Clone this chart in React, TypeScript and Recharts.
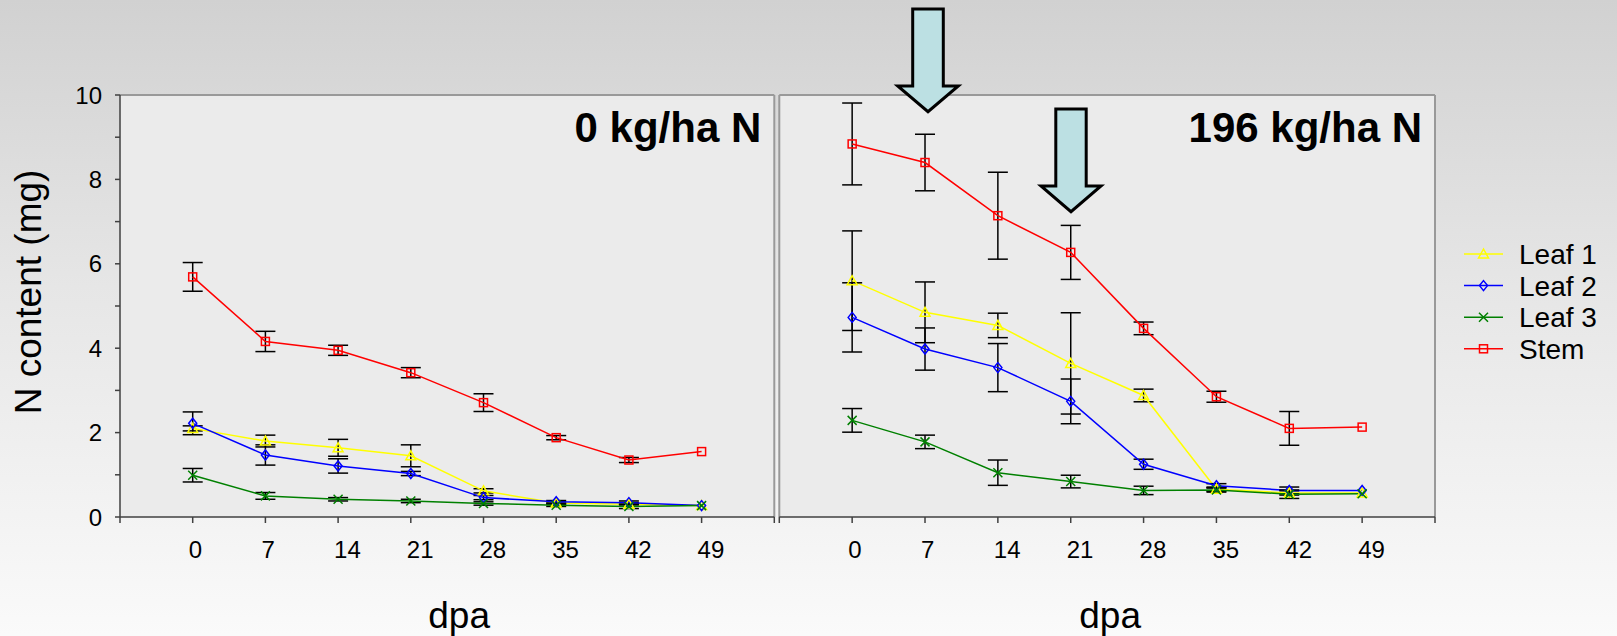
import React from "react"
import {
  LineChart,
  Line,
  XAxis,
  YAxis,
  CartesianGrid,
  ErrorBar,
  ReferenceLine,
  Legend,
} from "recharts"

const dpa = [0, 7, 14, 21, 28, 35, 42, 49]
const xTicks = [-7, 0, 7, 14, 21, 28, 35, 42, 49, 56]
const yTicks = [0, 1, 2, 3, 4, 5, 6, 7, 8, 9, 10]

// 0 kg/ha N
const leaf1N0 = [2.1, 1.8, 1.64, 1.45, 0.62, 0.33, 0.3, 0.27]
const leaf1N0Err = [0.06, 0.14, 0.2, 0.26, 0.05, 0.03, 0.04, 0]
const leaf2N0 = [2.22, 1.47, 1.21, 1.03, 0.46, 0.36, 0.34, 0.27]
const leaf2N0Err = [0.27, 0.24, 0.17, 0.05, 0.05, 0.03, 0.04, 0]
const leaf3N0 = [0.99, 0.5, 0.42, 0.38, 0.32, 0.28, 0.25, 0.27]
const leaf3N0Err = [0.16, 0.08, 0.04, 0.04, 0.04, 0.03, 0.05, 0]
const stemN0 = [5.69, 4.16, 3.95, 3.42, 2.71, 1.88, 1.35, 1.55]
const stemN0Err = [0.34, 0.24, 0.12, 0.12, 0.21, 0.05, 0.06, 0]

// 196 kg/ha N
const leaf1N196 = [5.6, 4.85, 4.54, 3.64, 2.88, 0.66, 0.57, 0.57]
const leaf1N196Err = [1.18, 0.72, 0.29, 1.2, 0.15, 0.05, 0.05, 0]
const leaf2N196 = [4.73, 3.98, 3.54, 2.74, 1.25, 0.74, 0.63, 0.63]
const leaf2N196Err = [0.82, 0.5, 0.57, 0.53, 0.12, 0.05, 0.08, 0]
const leaf3N196 = [2.29, 1.78, 1.05, 0.84, 0.63, 0.64, 0.54, 0.55]
const leaf3N196Err = [0.28, 0.16, 0.3, 0.15, 0.1, 0.05, 0.1, 0]
const stemN196 = [8.84, 8.4, 7.14, 6.27, 4.47, 2.85, 2.1, 2.13]
const stemN196Err = [0.97, 0.67, 1.03, 0.64, 0.15, 0.13, 0.4, 0]

const seriesNames = ["Leaf 1", "Leaf 2", "Leaf 3", "Stem"]

const FONT = '"Liberation Sans", Arial, sans-serif'
const AXIS = "#404040"
const BORDER = "#999999"

const buildRows = (
  l1: number[], l1e: number[],
  l2: number[], l2e: number[],
  l3: number[], l3e: number[],
  st: number[], ste: number[]
) =>
  dpa.map((d, i) => ({
    dpa: d,
    leaf1: l1[i], leaf1Err: l1e[i],
    leaf2: l2[i], leaf2Err: l2e[i],
    leaf3: l3[i], leaf3Err: l3e[i],
    stem: st[i], stemErr: ste[i],
  }))

const rowsN0 = buildRows(leaf1N0, leaf1N0Err, leaf2N0, leaf2N0Err, leaf3N0, leaf3N0Err, stemN0, stemN0Err)
const rowsN196 = buildRows(leaf1N196, leaf1N196Err, leaf2N196, leaf2N196Err, leaf3N196, leaf3N196Err, stemN196, stemN196Err)

const series = [
  { key: "leaf1", name: "Leaf 1", color: "#ffff00", shape: "triangle" },
  { key: "leaf2", name: "Leaf 2", color: "#0000ff", shape: "diamond" },
  { key: "leaf3", name: "Leaf 3", color: "#008000", shape: "cross" },
  { key: "stem", name: "Stem", color: "#ff0000", shape: "square" },
]

const Marker = ({ shape, cx, cy, color }: any) => {
  if (cx == null || cy == null) return null
  if (shape === "triangle")
    return (
      <polygon
        points={`${cx},${cy - 5} ${cx - 5},${cy + 4} ${cx + 5},${cy + 4}`}
        fill="none" stroke={color} strokeWidth={1.5}
      />
    )
  if (shape === "diamond")
    return (
      <polygon
        points={`${cx},${cy - 5} ${cx + 4},${cy} ${cx},${cy + 5} ${cx - 4},${cy}`}
        fill="none" stroke={color} strokeWidth={1.5}
      />
    )
  if (shape === "cross")
    return (
      <path
        d={`M${cx - 4.5},${cy - 4.5}L${cx + 4.5},${cy + 4.5}M${cx + 4.5},${cy - 4.5}L${cx - 4.5},${cy + 4.5}`}
        stroke={color} strokeWidth={1.5}
      />
    )
  return (
    <rect x={cx - 4} y={cy - 4} width={8} height={8} fill="none" stroke={color} strokeWidth={1.5} />
  )
}

const dotFor = (shape: string, color: string) => (props: any) => (
  <g key={`${shape}-${props.index}`}>
    <Marker shape={shape} cx={props.cx} cy={props.cy} color={color} />
  </g>
)

const XTick = (props: any) => {
  const v = props.payload.value
  if (v < 0 || v > 49) return <g />
  return (
    <text x={props.x - 4} y={props.y + 35} textAnchor="start" fontSize={24} fontFamily={FONT} fill="#000">
      {v}
    </text>
  )
}

const YTick = (props: any) => {
  const v = props.payload.value
  if (v % 2 !== 0) return <g />
  return (
    <text x={props.x} y={props.y + 8.6} textAnchor="end" fontSize={24} fontFamily={FONT} fill="#000">
      {v}
    </text>
  )
}

const dpaTitle = (dx: number) => (props: any) => {
  const vb = props.viewBox
  return (
    <text x={vb.x + vb.width / 2 + dx} y={vb.y + vb.height - 8} textAnchor="middle" fontSize={37} fontFamily={FONT} fill="#000">
      dpa
    </text>
  )
}

const yTitle = (props: any) => {
  const vb = props.viewBox
  const cy = vb.y + vb.height / 2 - 14
  return (
    <text x={41} y={cy} transform={`rotate(-90, 41, ${cy})`} textAnchor="middle" fontSize={37} fontFamily={FONT} fill="#000">
      N content (mg)
    </text>
  )
}

const panelTitle = (text: string) => (props: any) => {
  const vb = props.viewBox
  return (
    <text x={vb.x - 13} y={vb.y + 46.5} textAnchor="end" fontSize={42} fontWeight="bold" fontFamily={FONT} fill="#000">
      {text}
    </text>
  )
}

const LegendContent = (props: any) => {
  const items = (props.payload || []).filter((p: any) => seriesNames.includes(p.value))
  return (
    <svg width={170} height={130}>
      {items.map((p: any, i: number) => {
        const s = series.find((x) => x.name === p.value)!
        const cy = 18 + i * 31.6
        return (
          <g key={p.value}>
            <line x1={0} x2={39} y1={cy} y2={cy} stroke={s.color} strokeWidth={1.5} />
            <Marker shape={s.shape} cx={19.5} cy={cy} color={s.color} />
            <text x={55} y={cy + 10} fontSize={28} fontFamily={FONT} fill="#000">
              {p.value}
            </text>
          </g>
        )
      })}
    </svg>
  )
}

const Panel = ({ rows, title, showY, showLegend, left, width, marginLeft, marginRight, dpaDx }: any) => (
  <div style={{ position: "absolute", left, top: 0 }}>
    <LineChart
      width={width}
      height={636}
      data={rows}
      margin={{ top: 95, right: marginRight, bottom: 0, left: marginLeft }}
    >
      <CartesianGrid horizontal={false} vertical={false} fill="#ebebeb" fillOpacity={1} />
      <XAxis
        type="number"
        dataKey="dpa"
        domain={[-7, 56]}
        ticks={xTicks}
        interval={0}
        allowDataOverflow
        height={119}
        tickSize={6}
        tickMargin={0}
        tick={XTick}
        tickLine={{ stroke: AXIS, strokeWidth: 1.5 }}
        axisLine={{ stroke: AXIS, strokeWidth: 1.5 }}
        label={{ content: dpaTitle(dpaDx) }}
      />
      {showY ? (
        <YAxis
          type="number"
          domain={[0, 10]}
          ticks={yTicks}
          interval={0}
          width={120}
          tickSize={5}
          tickMargin={13}
          tick={YTick}
          tickLine={{ stroke: AXIS, strokeWidth: 1.5 }}
          axisLine={{ stroke: AXIS, strokeWidth: 1.5 }}
          label={{ content: yTitle }}
        />
      ) : (
        <YAxis hide type="number" domain={[0, 10]} />
      )}
      <ReferenceLine y={10} stroke={BORDER} strokeWidth={2} />
      <ReferenceLine x={56} stroke={BORDER} strokeWidth={2} label={{ content: panelTitle(title) }} />
      {!showY && <ReferenceLine x={-7} stroke={BORDER} strokeWidth={2} />}
      {series.map((s) => (
        <Line
          key={s.key}
          dataKey={s.key}
          name={s.name}
          stroke={s.color}
          strokeWidth={1.5}
          dot={dotFor(s.shape, s.color)}
          activeDot={false}
          isAnimationActive={false}
          legendType="line"
        >
          <ErrorBar dataKey={`${s.key}Err`} width={10} stroke="#000" strokeWidth={1.5} direction="y" isAnimationActive={false} />
        </Line>
      ))}
      {showLegend && (
        <Legend
          layout="horizontal"
          verticalAlign="middle"
          align="center"
          wrapperStyle={{ left: 1464 - left, top: 236, width: 170, height: 130 }}
          content={LegendContent}
        />
      )}
    </LineChart>
  </div>
)

const Arrow = ({ cx, top, shaft, headY, tipY, headHalf }: any) => (
  <polygon
    points={[
      [cx - shaft, top],
      [cx + shaft, top],
      [cx + shaft, headY],
      [cx + headHalf, headY],
      [cx, tipY],
      [cx - headHalf, headY],
      [cx - shaft, headY],
    ]
      .map((p) => p.join(","))
      .join(" ")}
    fill="#bce0e3"
    stroke="#000"
    strokeWidth={3}
    strokeLinejoin="miter"
  />
)

export default function App() {
  return (
    <div
      style={{
        position: "absolute",
        left: 0,
        top: 0,
        width: 1617,
        height: 636,
        overflow: "hidden",
        background: "linear-gradient(to bottom, #d1d1d1 0%, #e6e6e6 45%, #fafafa 100%)",
        fontFamily: FONT,
      }}
    >
      <Panel rows={rowsN0} title="0 kg/ha N" showY left={0} width={790} marginLeft={0} marginRight={15.7} dpaDx={12} />
      <Panel
        rows={rowsN196}
        title="196 kg/ha N"
        showLegend
        left={760}
        width={857}
        marginLeft={19.3}
        marginRight={182}
        dpaDx={3}
      />
      <svg width={1617} height={636} style={{ position: "absolute", left: 0, top: 0, pointerEvents: "none" }}>
        <Arrow cx={928} top={9} shaft={15.3} headY={86} tipY={111.7} headHalf={30.3} />
        <Arrow cx={1071} top={109} shaft={15.2} headY={186} tipY={211.7} headHalf={30} />
      </svg>
    </div>
  )
}
